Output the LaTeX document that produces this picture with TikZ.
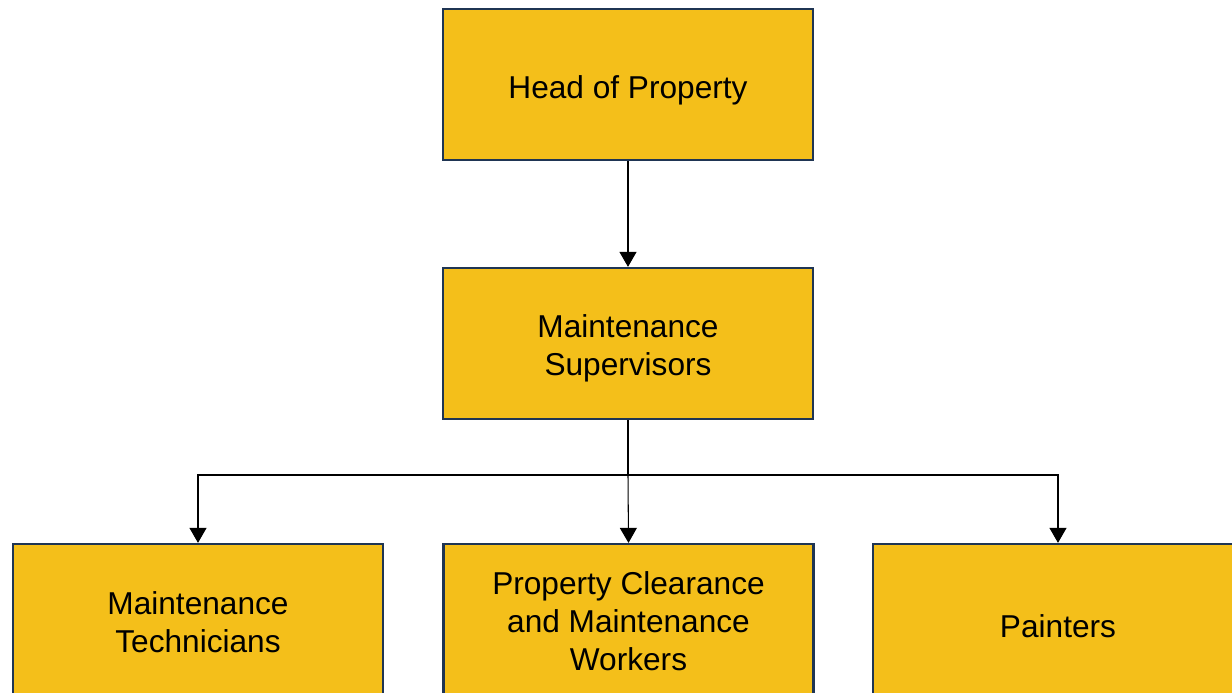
\documentclass[tikz,border=0pt]{standalone}
\usepackage{fontspec}
\setmainfont{Liberation Sans}
\usetikzlibrary{arrows.meta}
\definecolor{boxfill}{HTML}{F4BF1A}
\definecolor{boxline}{HTML}{1F3553}
\tikzset{
  rolebox/.style={draw=boxline, line width=1.3pt, fill=boxfill, minimum width=7.4cm, minimum height=3.02cm, align=center, text height=#1, font=\fontsize{18}{21.6}\selectfont},
  rolebox/.default=19.5pt,
  link/.style={line width=0.6pt, -{Triangle[width=0.34cm,length=0.3cm]}}
}
\begin{document}
\begin{tikzpicture}[x=0.02cm,y=0.02cm]
        \useasboundingbox (0,0) rectangle (1232,693);
        \clip (0,0) rectangle (1232,693);
        \node[rolebox] (head) at (628,608.5) {Head of Property};
        \node[rolebox=40.2pt] (supervisors) at (628,349.5) {Maintenance\\Supervisors};
        \node[rolebox=37.9pt] (technicians) at (198,73.5) {Maintenance\\Technicians};
        \node[rolebox=58.4pt] (clearance) at (628.5,73.5) {Property Clearance\\and Maintenance\\Workers};
        \node[rolebox=20.8pt] (painters) at (1058,73.5) {Painters};
        \coordinate (branch) at (628,218);
        \draw[link] (head) -- (supervisors);
        \draw[line width=0.6pt] (supervisors.south) -- (branch);
        \draw[link] (branch) -- (clearance.north);
        \draw[link] (branch) -| (technicians.north);
        \draw[link] (branch) -| (painters.north);
    \end{tikzpicture}
\end{document}
